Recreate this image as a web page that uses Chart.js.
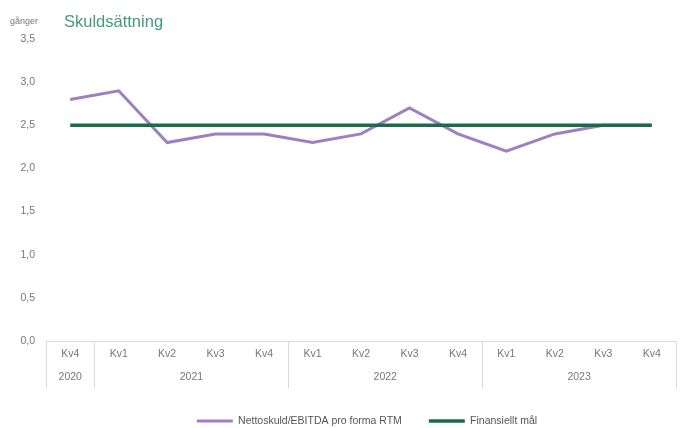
<!DOCTYPE html>
<html>
<head>
<meta charset="utf-8">
<script src="https://cdn.jsdelivr.net/npm/chart.js@4/dist/chart.umd.min.js"></script>
<style>
  html, body { margin: 0; padding: 0; background: #fff; }
  #wrap { position: relative; width: 686px; height: 428px; }
  #title { position: absolute; left: 64px; top: 12px; font-family: "Liberation Sans", Arial, sans-serif; font-size: 16.5px; color: #449b7b; line-height: 19px; }
  #unit { position: absolute; left: 10px; top: 16px; font-family: "Liberation Sans", Arial, sans-serif; font-size: 9px; color: #777; }
</style>
</head>
<body>
<div id="wrap">
  <canvas id="c" width="686" height="428"></canvas>
  <div id="title">Skuldsättning</div>
  <div id="unit">gånger</div>
</div>
<script>
const quarters = ['Kv4','Kv1','Kv2','Kv3','Kv4','Kv1','Kv2','Kv3','Kv4','Kv1','Kv2','Kv3','Kv4'];
const years = ['2020','2021','2022','2023'];
const yearGroupSizes = [1, 4, 4, 4];
const nettoskuld = [2.8, 2.9, 2.3, 2.4, 2.4, 2.3, 2.4, 2.7, 2.4, 2.2, 2.4, 2.5, 2.5];
const finansielltMal = [2.5, 2.5, 2.5, 2.5, 2.5, 2.5, 2.5, 2.5, 2.5, 2.5, 2.5, 2.5, 2.5];
const yTicks = [0, 0.5, 1.0, 1.5, 2.0, 2.5, 3.0, 3.5];

const AXIS_COLOR = '#d9d9d9';
const LABEL_COLOR = '#777777';
const FONT = '"Liberation Sans", Arial, sans-serif';
const FS = 10.5;

const groupPlugin = {
  id: 'groupAxis',
  afterDraw(chart) {
    const x = chart.scales.x;
    const ctx = chart.ctx;
    const top = chart.chartArea.bottom;
    const bottom = top + 47;
    const half = (x.getPixelForValue(1) - x.getPixelForValue(0)) / 2;
    ctx.save();
    ctx.strokeStyle = AXIS_COLOR;
    ctx.lineWidth = 1;
    let idx = 0;
    const bounds = [x.getPixelForValue(0) - half];
    const centers = [];
    yearGroupSizes.forEach(n => {
      const start = x.getPixelForValue(idx) - half;
      const end = x.getPixelForValue(idx + n - 1) + half;
      bounds.push(end);
      centers.push((start + end) / 2);
      idx += n;
    });
    bounds.forEach(b => {
      const px = Math.round(b) + 0.5;
      ctx.beginPath();
      ctx.moveTo(px, top);
      ctx.lineTo(px, bottom);
      ctx.stroke();
    });
    ctx.fillStyle = LABEL_COLOR;
    ctx.font = FS + 'px ' + FONT;
    ctx.textAlign = 'center';
    ctx.textBaseline = 'middle';
    years.forEach((y, i) => ctx.fillText(y, centers[i], top + 36));
    ctx.restore();
  }
};

const legendShift = {
  id: 'legendShift',
  afterLayout(chart) {
    const l = chart.legend;
    if (l) { l.left += 29; l.right += 29; }
  }
};

new Chart(document.getElementById('c'), {
  type: 'line',
  data: {
    labels: quarters,
    datasets: [
      { label: 'Nettoskuld/EBITDA pro forma RTM', data: nettoskuld, borderColor: '#a07fc1', backgroundColor: '#a07fc1', borderWidth: 3, pointRadius: 0, tension: 0, order: 1 },
      { label: 'Finansiellt mål', data: finansielltMal, borderColor: '#1b6a4c', backgroundColor: '#1b6a4c', borderWidth: 3.5, pointRadius: 0, tension: 0, order: 0 }
    ]
  },
  options: {
    responsive: false,
    animation: false,
    layout: { padding: { top: 39, right: 10, left: 0, bottom: -8.25 } },
    plugins: {
      tooltip: { enabled: false },
      legend: {
        position: 'bottom',
        labels: {
          usePointStyle: true,
          pointStyle: 'line',
          pointStyleWidth: 36,
          font: { size: FS, family: FONT },
          color: '#555',
          padding: 27,
          sort: (a, b) => a.datasetIndex - b.datasetIndex
        }
      }
    },
    scales: {
      x: {
        offset: true,
        grid: { display: false, drawTicks: false },
        border: { display: true, color: AXIS_COLOR },
        ticks: { color: LABEL_COLOR, font: { size: FS, family: FONT }, padding: 7, maxRotation: 0, autoSkip: false },
        afterFit(scale) { scale.height = 47.75; }
      },
      y: {
        min: 0, max: 3.5,
        grid: { display: false, drawTicks: false },
        border: { display: false },
        afterBuildTicks(scale) { scale.ticks = yTicks.map(v => ({ value: v })); },
        ticks: {
          color: LABEL_COLOR, font: { size: FS, family: FONT }, padding: 11,
          callback: v => v.toFixed(1).replace('.', ',')
        },
        afterFit(scale) { scale.width = 46; }
      }
    }
  },
  plugins: [groupPlugin, legendShift]
});
</script>
</body>
</html>
